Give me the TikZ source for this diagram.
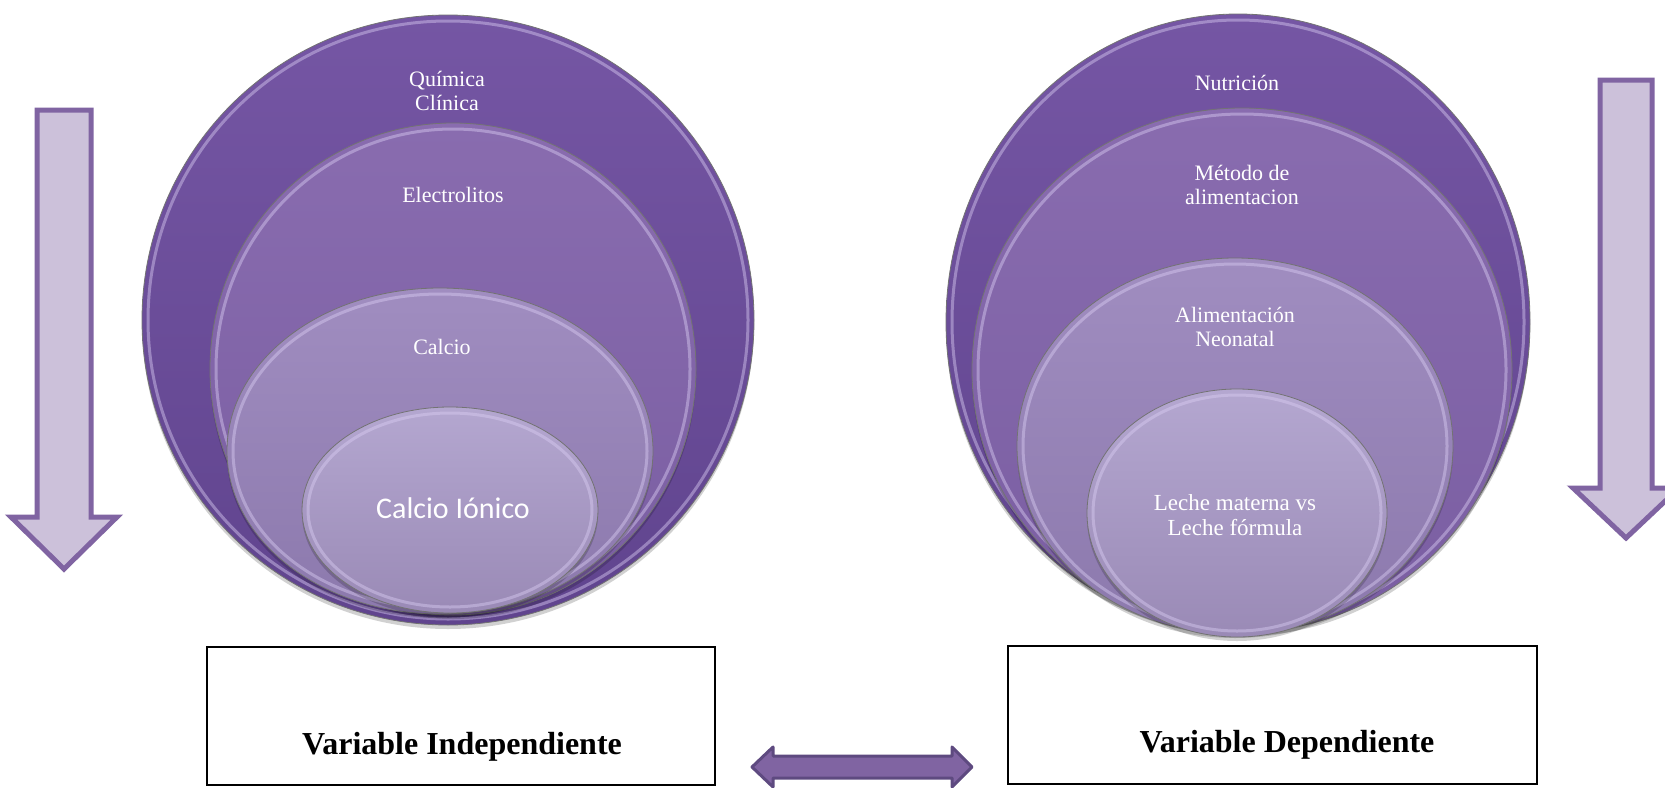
\documentclass[tikz,border=0pt]{standalone}
\usepackage{fontspec}
\setmainfont{Liberation Serif}
\newfontfamily\calfont{Carlito}
\usetikzlibrary{shapes.geometric}
\definecolor{arrfill}{HTML}{CCC1DA}
\definecolor{arrline}{HTML}{8064A2}
\definecolor{dblfill}{HTML}{8064A2}
\definecolor{dblline}{HTML}{5E4A80}
\definecolor{oneT}{HTML}{7556A4}
\definecolor{oneB}{HTML}{60448E}
\definecolor{twoT}{HTML}{896CAF}
\definecolor{twoB}{HTML}{7A5EA2}
\definecolor{thrT}{HTML}{A08DC0}
\definecolor{thrB}{HTML}{8C79AD}
\definecolor{fouT}{HTML}{B4A7D0}
\definecolor{fouB}{HTML}{9A8AB6}
\definecolor{rimcol}{HTML}{D9CCF2}
\tikzset{
  bub/.style 2 args={ellipse, inner sep=0pt, top color=#1, bottom color=#2, draw=black!55, line width=0.8pt},
  rim/.style={ellipse, inner sep=0pt, draw=rimcol, line width=3pt, draw opacity=0.45, fill=none},
  shad/.style={ellipse, inner sep=0pt, fill=black, fill opacity=0.18, draw=none},
  lbl/.style={text=white, align=center, font=\fontsize{22}{24}\selectfont, inner sep=0pt},
  downarrow/.style={fill=arrfill, draw=arrline, line width=5pt, line join=miter},
  dblarrow/.style={fill=dblfill, draw=dblline, line width=3pt, line join=round},
  varbox/.style={draw=black, line width=1.3pt, fill=white, inner sep=0pt},
  vartext/.style={font=\bfseries\fontsize{32}{34}\selectfont, inner sep=0pt}
}
\newcommand\mybubble[7]{%
  \node[shad, minimum width=#4, minimum height=#5] at (#2,#3+4) {};
  \node[bub={#6}{#7}, minimum width=#4, minimum height=#5] (#1) at (#2,#3) {};
  \node[rim, minimum width=#4-12, minimum height=#5-12] at (#2,#3) {};
}
\begin{document}
\begin{tikzpicture}[x=1pt,y=-1pt]
\useasboundingbox (0,0) rectangle (1665,787);
\fill[white] (0,0) rectangle (1665,787);

% left down arrow
\draw[downarrow] (37,110) -- (91,110) -- (91,517) -- (117,517) -- (64,569) -- (11,517) -- (37,517) -- cycle;
% right down arrow
\draw[downarrow] (1600,80) -- (1652,80) -- (1652,488) -- (1679,488) -- (1626,538) -- (1573,488) -- (1600,488) -- cycle;

% left nested group
\mybubble{qc}{448}{320}{612}{610}{oneT}{oneB}
\mybubble{el}{453}{369}{486}{492}{twoT}{twoB}
\mybubble{ca}{440}{451}{426}{326}{thrT}{thrB}
\mybubble{ci}{450}{510}{296}{206}{fouT}{fouB}

\node[lbl] (tqc) at (447,91) {Química\\Clínica};
\node[lbl] (tel) at (453,195) {Electrolitos};
\node[lbl] (tca) at (442,347) {Calcio};
\node[lbl, font=\calfont\fontsize{30}{32}\selectfont] (tci) at (453,508) {Calcio Iónico};

% right nested group
\mybubble{nu}{1238}{322}{584}{616}{oneT}{oneB}
\mybubble{me}{1242}{370}{540}{524}{twoT}{twoB}
\mybubble{an}{1235}{446}{436}{376}{thrT}{thrB}
\mybubble{le}{1237}{513}{300}{248}{fouT}{fouB}

\node[lbl] (tnu) at (1237,83) {Nutrición};
\node[lbl] (tme) at (1242,185) {Método de\\alimentacion};
\node[lbl] (tan) at (1235,327) {Alimentación\\Neonatal};
\node[lbl, font=\fontsize{23}{25}\selectfont] (tle) at (1235,515) {Leche materna vs\\Leche fórmula};

% boxes
\node[varbox, minimum width=508, minimum height=138] (vi) at (461,716) {};
\node[vartext] (tvi) at (462,747) {Variable Independiente};
\node[varbox, minimum width=529, minimum height=138] (vd) at (1272.5,715) {};
\node[vartext] (tvd) at (1287,745) {Variable Dependiente};

% double arrow
\draw[dblarrow] (752,767) -- (773,747) -- (773,756) -- (952,756) -- (952,747) -- (972,767) -- (952,787) -- (952,778) -- (773,778) -- (773,787) -- cycle;
\end{tikzpicture}
\end{document}
